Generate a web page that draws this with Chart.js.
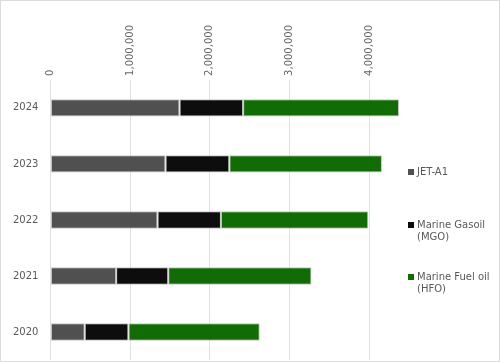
<!DOCTYPE html>
<html>
<head>
<meta charset="utf-8">
<script src="https://cdn.jsdelivr.net/npm/chart.js@4/dist/chart.umd.min.js"></script>
<style>
  html, body { margin: 0; padding: 0; background: #fff; }
  #wrap { position: relative; width: 500px; height: 362px; box-sizing: border-box; border: 1px solid #dcdcdc; }
  #chart { position: absolute; left: 0; top: 0; }
  #legend { position: absolute; left: 407px; top: 165px; width: 90px; font: 10px "DejaVu Sans", sans-serif; color: #595959; }
  .item { position: relative; padding-left: 9px; line-height: 12px; }
  .box { position: absolute; left: 0; top: 3px; width: 6px; height: 6px; }
</style>
</head>
<body>
<div id="wrap">
  <canvas id="chart" width="498" height="360"></canvas>
  <div id="legend"></div>
</div>
<script>
const years = ["2024", "2023", "2022", "2021", "2020"];
const seriesNames = ["JET-A1", "Marine Gasoil (MGO)", "Marine Fuel oil (HFO)"];
const seriesColors = ["#505050", "#0d0d0d", "#116c06"];
const jetA1 = [1620000, 1444000, 1344000, 824000, 430000];
const mgo = [798000, 801000, 796000, 654000, 549000];
const hfo = [1957000, 1916000, 1850000, 1799000, 1648000];
const xTicks = [0, 1000000, 2000000, 3000000, 4000000];
const legendGaps = [0, 41, 28];

function makeDataset(i, data) {
  return {
    label: seriesNames[i],
    data: data,
    backgroundColor: seriesColors[i],
    borderColor: "rgba(190, 190, 190, 0.9)",
    borderWidth: 1,
    borderSkipped: false,
    barPercentage: 0.31,
    categoryPercentage: 1,
  };
}

new Chart(document.getElementById("chart").getContext("2d"), {
  type: "bar",
  data: {
    labels: years,
    datasets: [makeDataset(0, jetA1), makeDataset(1, mgo), makeDataset(2, hfo)],
  },
  options: {
    responsive: false,
    animation: false,
    indexAxis: "y",
    layout: { padding: { left: 0, top: 20, right: 98, bottom: 1 } },
    plugins: { legend: { display: false }, tooltip: { enabled: false } },
    scales: {
      x: {
        position: "top",
        stacked: true,
        min: 0,
        max: 4400000,
        border: { display: false },
        grid: { color: "#e2e2e2", drawTicks: false },
        afterBuildTicks: (axis) => {
          axis.ticks = xTicks.map((v) => ({ value: v }));
        },
        ticks: {
          autoSkip: false,
          minRotation: 90,
          maxRotation: 90,
          padding: 4,
          labelOffset: 12,
          color: "#666",
          font: { family: "DejaVu Sans", size: 10 },
          callback: (v) => v.toLocaleString("en-US"),
        },
      },
      y: {
        stacked: true,
        grid: { display: false, drawTicks: false },
        border: { display: false },
        ticks: { color: "#595959", font: { family: "DejaVu Sans", size: 10 }, padding: 12 },
        afterFit: (axis) => {
          axis.paddingTop = 0;
          axis.paddingBottom = 0;
        },
      },
    },
  },
});

const legend = document.getElementById("legend");
seriesNames.forEach((name, i) => {
  const item = document.createElement("div");
  item.className = "item";
  item.style.marginTop = legendGaps[i] + "px";
  item.innerHTML = `<span class="box" style="background:${seriesColors[i]}"></span>${name}`;
  legend.appendChild(item);
});
</script>
</body>
</html>
